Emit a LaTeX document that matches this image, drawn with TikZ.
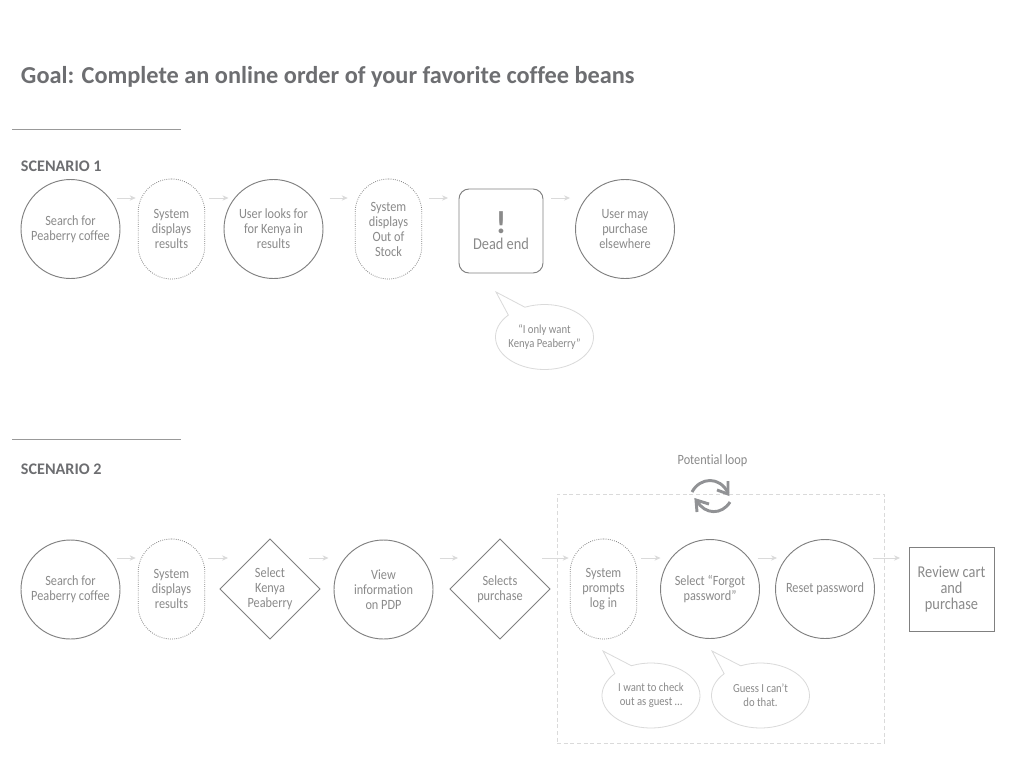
\documentclass[tikz,border=0pt]{standalone}
\usepackage{fontspec}
\setmainfont[Ligatures=NoCommon,FakeStretch=0.87]{Carlito}
\newfontfamily\headfont[Ligatures=NoCommon]{Carlito}
\usetikzlibrary{calc,arrows.meta,shapes.geometric,shapes.callouts}
\definecolor{txt}{HTML}{8A8A8A}
\definecolor{head}{HTML}{6D6E71}
\definecolor{edge}{HTML}{808080}
\definecolor{soft}{HTML}{DADADA}
\tikzset{
  base/.style={outer sep=0pt,inner sep=0pt,align=center,text=txt,font=\fontsize{10.6pt}{11.25pt}\selectfont},
  circ/.style={base,circle,draw=edge,line width=.7pt,minimum size=74.25pt},
  pill/.style={base,rectangle,draw=edge,densely dotted,line width=.6pt,rounded corners=25pt,minimum width=50pt,minimum height=75pt},
  dia/.style={base,diamond,aspect=1,draw=edge,line width=.6pt,minimum size=75pt},
  bubble/.style={base,ellipse callout,draw=soft,line width=.6pt,minimum width=73.5pt,minimum height=48.75pt,inner xsep=-3pt,inner ysep=-1pt,callout pointer arc=24,font=\fontsize{9.2pt}{10.6pt}\selectfont},
  flow/.style={draw=soft,line width=.6pt,-{Stealth[length=4.5pt,width=4pt]}},
  rule/.style={draw=edge!80,line width=.4pt},
  loopline/.style={draw=head!75,line width=2.2pt},
  labeltext/.style={base,anchor=base west,font=\headfont\bfseries\fontsize{12.1pt}{13pt}\selectfont,text=head}
}
\newcommand{\conn}[5]{\draw[flow] ($(#1.east |- #3)+(#4,0)$) -- ($(#2.west |- #3)+(#5,0)$);}
\begin{document}
\begin{tikzpicture}[x=.75pt,y=-.75pt]
\useasboundingbox (0,0) rectangle (1024,768);
\fill[white] (0,0) rectangle (1024,768);
\node[labeltext,font=\headfont\bfseries\fontsize{18.25pt}{20pt}\selectfont] (title) at (21,83) {Goal: Complete an online order of your favorite coffee beans};
\coordinate (l1a) at (12,129); \coordinate (l1b) at (181,129);
\coordinate (l2a) at (12,439); \coordinate (l2b) at (181,439);
\draw[rule] (l1a) -- (l1b);
\draw[rule] (l2a) -- (l2b);
\node[labeltext] (sc1) at (21,171) {SCENARIO 1};
\node[labeltext] (sc2) at (21,474) {SCENARIO 2};
% scenario 1
\coordinate (r1) at (0,198);
\node[circ] (a1) at (70.5,229) {Search for\\Peaberry coffee};
\node[pill] (a2) at (171.5,229) {System\\displays\\results};
\node[circ] (a3) at (273.5,229) {User looks for\\for Kenya in\\results};
\node[pill] (a4) at (388.5,229) {System\\displays\\Out of\\Stock};
\node[base,rectangle,draw=edge,line width=.7pt,rounded corners=7.5pt,minimum size=63pt,font=\fontsize{12.4pt}{12pt}\selectfont] (a5) at (501,231) {{\headfont\bfseries\fontsize{24pt}{17pt}\selectfont !}\\Dead end};
\node[circ] (a6) at (625,229) {User may\\purchase\\elsewhere};
\conn{a1}{a2}{r1}{-3.5}{-2.5}
\conn{a2}{a3}{r1}{4.5}{4.5}
\conn{a3}{a4}{r1}{6.5}{-7.5}
\conn{a4}{a5}{r1}{7.5}{-11}
\conn{a5}{a6}{r1}{8}{-5.5}
\node[bubble,callout absolute pointer={(496,292)}] (q1) at (544.5,337) {“I only want\\Kenya Peaberry”};
% scenario 2
\node[draw=soft,densely dashed,line width=.5pt,minimum width=245.25pt,minimum height=186.75pt,inner sep=0pt,outer sep=0pt] (box) at (720.5,618.5) {};
\coordinate (r2) at (0,558);
\node[circ] (b1) at (70.5,589.5) {Search for\\Peaberry coffee};
\node[pill] (b2) at (171.5,589) {System\\displays\\results};
\node[dia] (b3) at (270,589) {Select\\Kenya\\Peaberry};
\node[circ] (b4) at (383.5,589.5) {View\\information\\on PDP};
\node[dia] (b5) at (500,589) {Selects\\purchase};
\node[pill] (b6) at (603.5,589) {System\\prompts\\log in};
\node[circ] (b7) at (710,589) {Select “Forgot\\password”};
\node[circ] (b8) at (825,589) {Reset password};
\node[base,rectangle,draw=edge,line width=.7pt,minimum width=63.75pt,minimum height=63pt,font=\fontsize{12.4pt}{12.1pt}\selectfont] (b9) at (951.5,589) {Review cart\\and\\purchase};
\conn{b1}{b2}{r2}{-3.5}{-2.5}
\conn{b2}{b3}{r2}{3.5}{8}
\conn{b3}{b4}{r2}{-11}{-5.5}
\conn{b4}{b5}{r2}{6.5}{8}
\conn{b5}{b6}{r2}{-8}{-1.5}
\conn{b6}{b7}{r2}{4.5}{0}
\conn{b7}{b8}{r2}{-2}{1.5}
\conn{b8}{b9}{r2}{-1.5}{-9}
\node[bubble,callout absolute pointer={(603,651)}] (q2) at (651,695.5) {I want to check\\out as guest …};
\node[bubble,callout absolute pointer={(712,651)}] (q3) at (760.5,695.5) {Guess I can’t\\do that.};
\node[base] (loop) at (712.5,461) {Potential loop};
\draw[loopline] (692,492) .. controls (700,477) and (720,476) .. (728,493);
\draw[loopline] (717,490) -- (728,494) -- (728,481);
\draw[loopline] (730,502) .. controls (722,515) and (705,515) .. (697,501);
\draw[loopline] (697,512) -- (696,500) -- (709,504);
\end{tikzpicture}
\end{document}
